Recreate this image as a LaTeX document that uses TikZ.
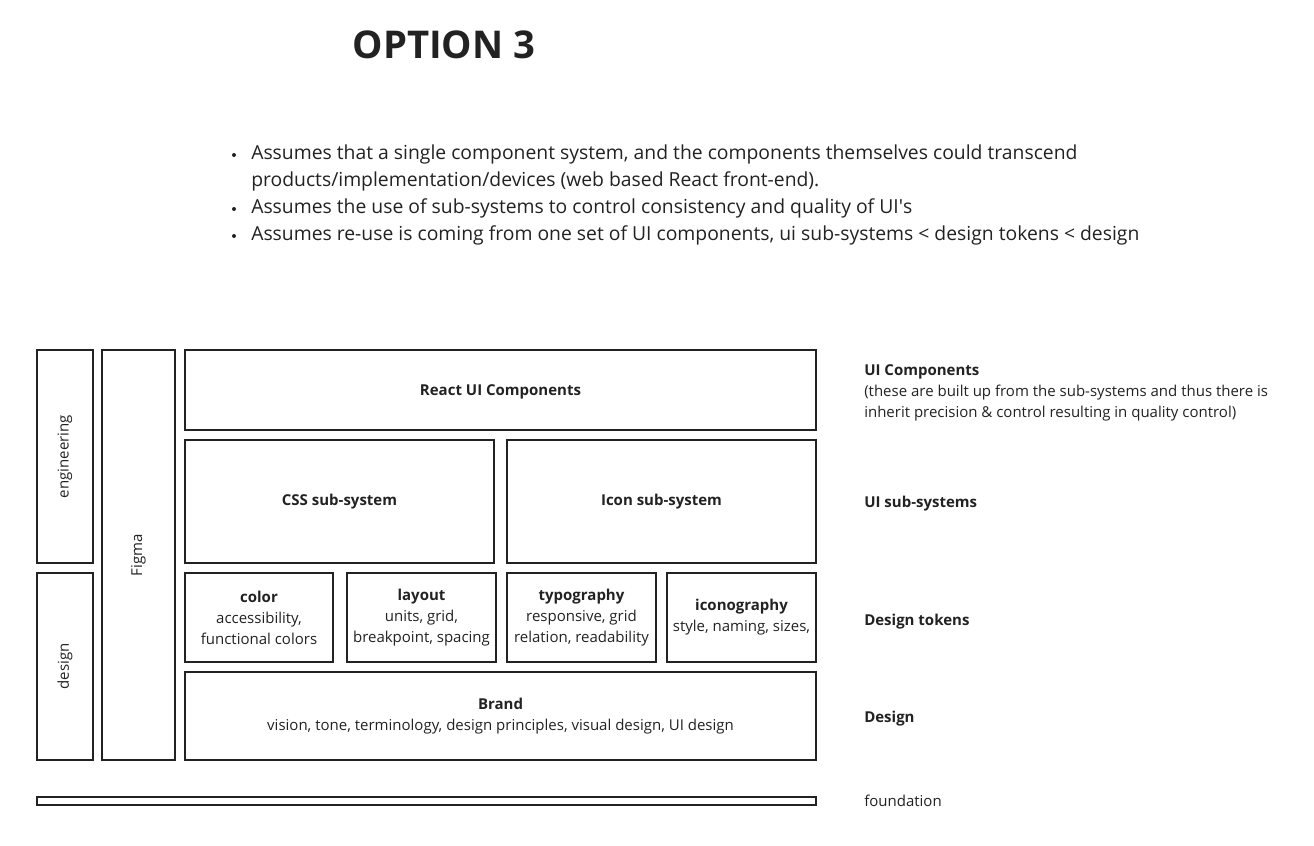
\documentclass[tikz,border=0pt]{standalone}
\usepackage{fontspec}
\setmainfont{Open Sans}
\usetikzlibrary{positioning}
\usetikzlibrary{fit}
\usetikzlibrary{calc}
\definecolor{ink}{HTML}{222222}
\tikzstyle{blk}=[draw=ink,line width=1.5pt,inner sep=0pt]
\tikzstyle{txt}=[align=center,text=ink,inner sep=0pt,font=\fontsize{11.25pt}{15.75pt}\selectfont]
\tikzstyle{vlabel}=[rotate=90,text=ink,font=\fontsize{11.25pt}{15.75pt}\selectfont]
\tikzstyle{side}=[anchor=west,align=left,text=ink,inner sep=0pt,font=\fontsize{11.25pt}{15.75pt}\selectfont]
\tikzstyle{bul}=[anchor=west,align=left,text=ink,inner sep=0pt,font=\fontsize{14.5pt}{20.25pt}\selectfont]
\tikzstyle{dot}=[circle,fill=ink,inner sep=0pt,minimum size=3pt]

\begin{document}
\begin{tikzpicture}[x=0.75pt,y=-0.75pt]
	\useasboundingbox (0,0) rectangle (1314,846);
	
	% Title
	\node[text=ink,font=\fontsize{28.7pt}{34pt}\selectfont\bfseries] (title) at (444,45) {OPTION 3};
	
	% Bullets
	\node[bul,anchor=north west] (b1) at (251,145) {Assumes that a single component system, and the components themselves could transcend\\products/implementation/devices (web based React front-end).};
	\node[bul] (b2) at (251,208) {Assumes the use of sub-systems to control consistency and quality of UI\textquotesingle s};
	\node[bul] (b3) at (251,235) {Assumes re-use is coming from one set of UI components, ui sub-systems < design tokens < design};
	\node[dot] (d1) at (234,155) {};
	\node[dot] (d2) at (234,209) {};
	\node[dot] (d3) at (234,236) {};
	
	% Side columns
	\node[blk,fit={(37,350) (93,563)}] (eng) {};
	\node[vlabel] (teng) at (eng.center) {engineering};
	\node[blk,fit={(37,573) (93,760)}] (des) {};
	\node[vlabel] (tdes) at (des.center) {design};
	\node[blk,fit={(102,350) (175,760)}] (figma) {};
	\node[vlabel] (tfigma) at (figma.center) {Figma};
	
	% Stack
	\node[blk,fit={(185,350) (816,430)}] (react) {};
	\node[blk,fit={(185,440) (494,563)}] (css) {};
	\node[blk,fit={(507,440) (816,563)}] (icon) {};
	\node[blk,fit={(185,573) (333,662)}] (color) {};
	\node[blk,fit={(347,573) (496,662)}] (layout) {};
	\node[blk,fit={(507,573) (656,662)}] (typo) {};
	\node[blk,fit={(667,573) (816,662)}] (iconog) {};
	\node[blk,fit={(185,672) (816,760)}] (brand) {};
	\node[blk,fit={(37,797) (816,805)}] (found) {};
	
	% Box texts
	\node[txt] (treact) at ($(react.center)+(0,1.5)$) {\textbf{React UI Components}};
	\node[txt] (tcss) at (css.center) {\textbf{CSS sub-system}};
	\node[txt] (ticon) at (icon.center) {\textbf{Icon sub-system}};
	\node[txt] (tcolor) at (color.center) {\textbf{color}\\accessibility,\\functional colors};
	\node[txt] (tlayout) at (layout.center) {\textbf{layout}\\units, grid,\\breakpoint, spacing};
	\node[txt] (ttypo) at (typo.center) {\textbf{typography}\\responsive, grid\\relation, readability};
	\node[txt] (ticonog) at (iconog.center) {\textbf{iconography}\\style, naming, sizes,};
	\node[txt] (tbrand) at (brand.center) {\textbf{Brand}\\vision, tone, terminology, design principles, visual design, UI design};
	
	% Layer names
	\node[side] (lcomp) at (864,393) {\textbf{UI Components}\\(these are built up from the sub-systems and thus there is\\inherit precision \& control resulting in quality control)};
	\node[side] (lsub) at (864,504) {\textbf{UI sub-systems}};
	\node[side] (ltok) at (864,622) {\textbf{Design tokens}};
	\node[side] (ldes) at (864,719) {\textbf{Design}};
	\node[side] (lfound) at (864,801) {foundation};
	
\end{tikzpicture}
\end{document}
